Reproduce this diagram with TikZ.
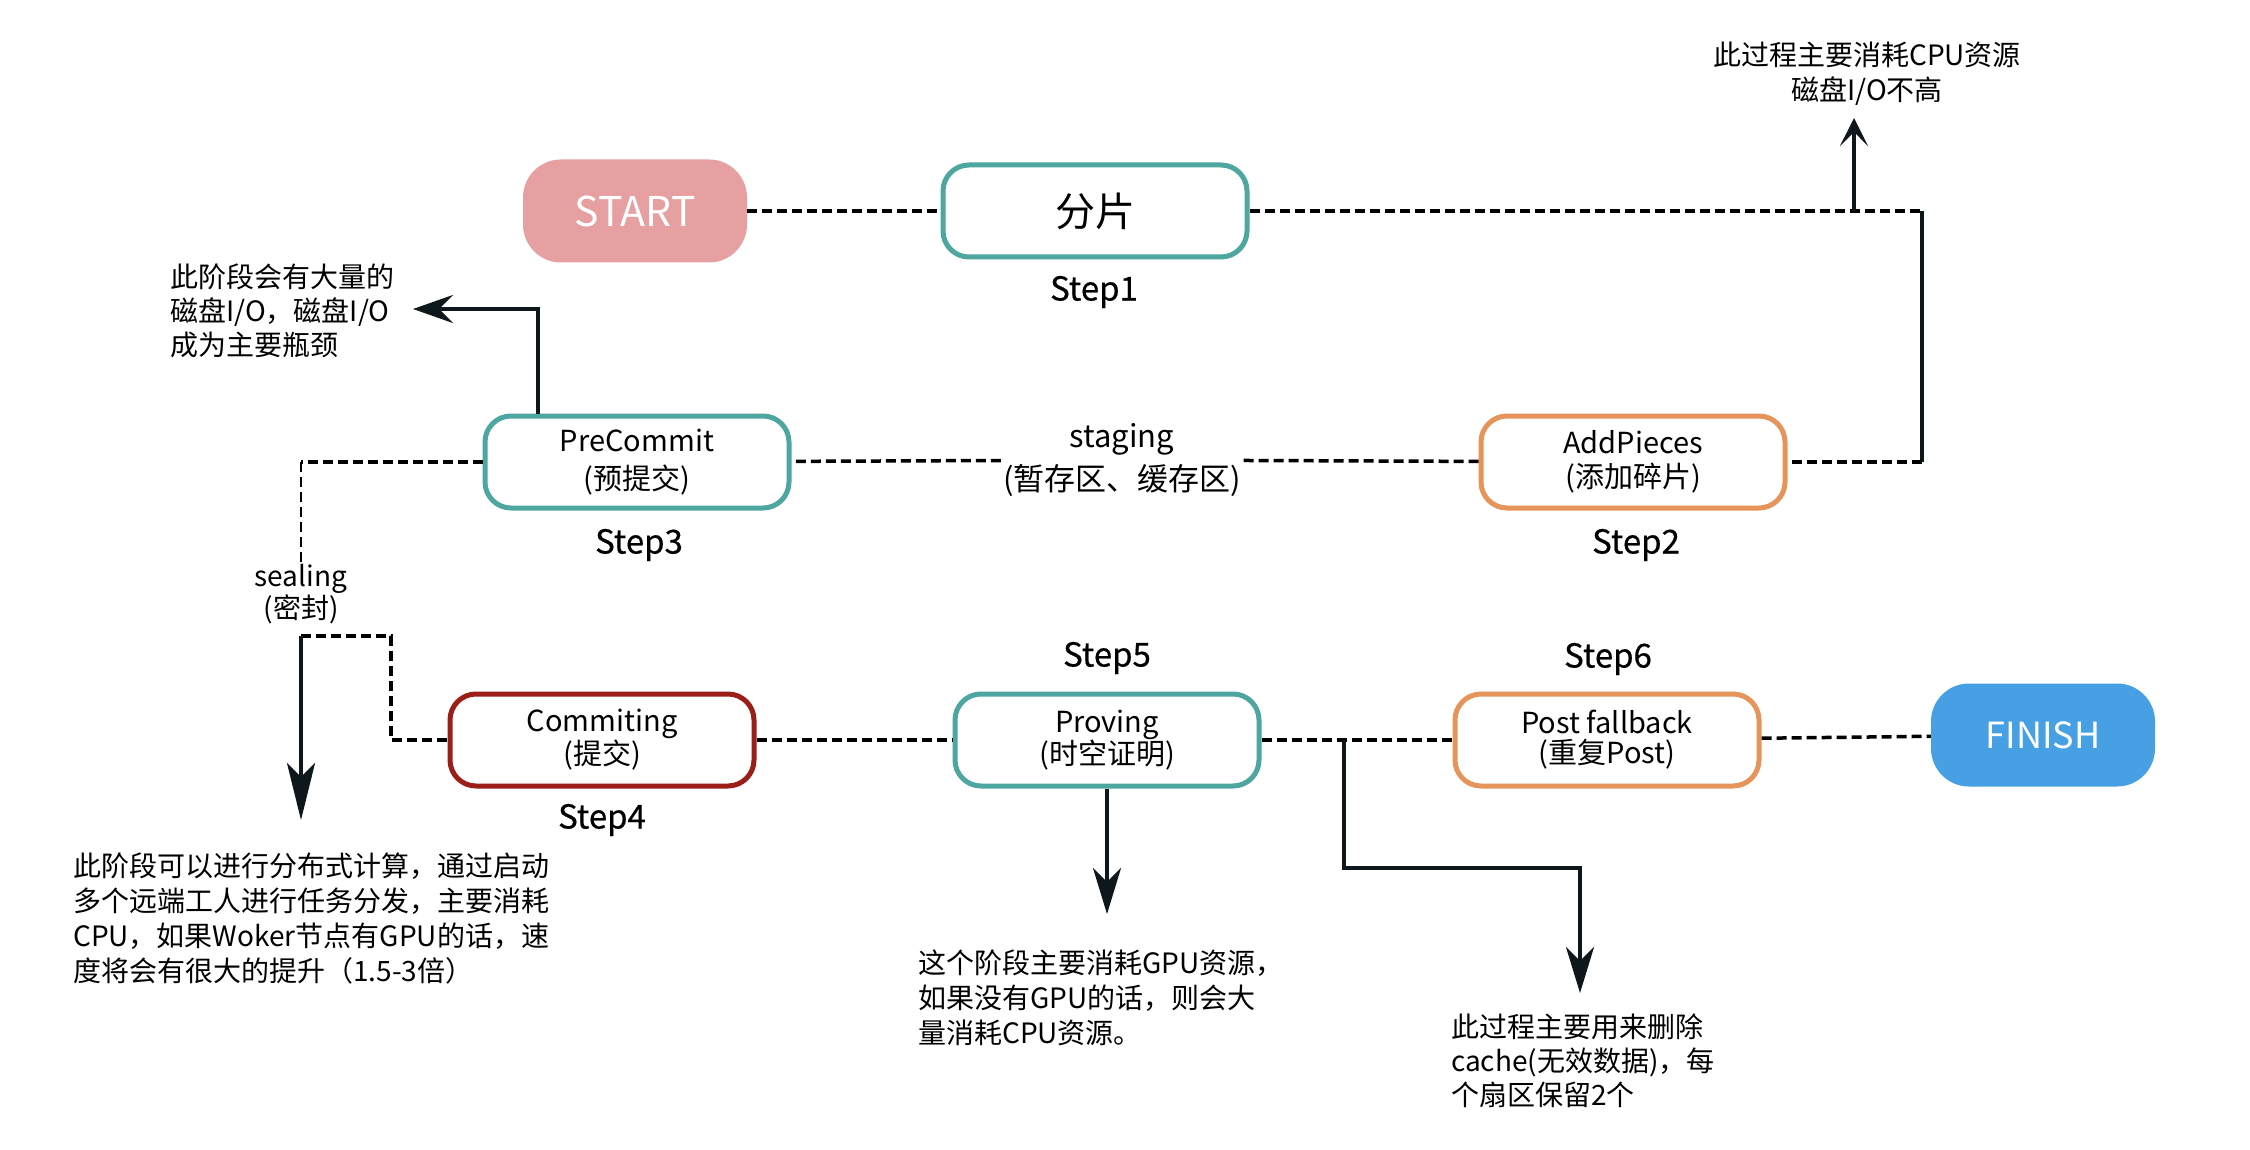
\documentclass[tikz,border=0pt]{standalone}
\usepackage{fontspec}
\setmainfont{Noto Sans CJK SC}
\newfontfamily\stepfont{Noto Sans CJK SC}[FakeBold=0.5]
\usetikzlibrary{arrows.meta}
\definecolor{tealc}{HTML}{4DA6A0}
\definecolor{orangec}{HTML}{E6955A}
\definecolor{redc}{HTML}{9B1F18}
\definecolor{pinkc}{HTML}{E6A0A1}
\definecolor{bluec}{HTML}{46A0E3}
\definecolor{inkc}{HTML}{0E171C}
\begin{document}
\begin{tikzpicture}[x=1pt,y=-1pt,
  stepbox/.style={draw, line width=5pt, rounded corners=26pt, minimum width=304pt, minimum height=92pt, align=center, fill=white, inner sep=0pt, font=\fontsize{29}{31}\selectfont},
  termbox/.style={rounded corners=38pt, minimum width=224pt, minimum height=103pt, inner sep=0pt, text=white},
  steplabel/.style={font=\stepfont\fontsize{33}{36}\selectfont},
  note/.style={align=left, anchor=west, inner sep=0pt, font=\fontsize{28}{35}\selectfont},
  dline/.style={line width=3.5pt, dash pattern=on 10pt off 5pt, color=black},
  sline/.style={line width=3.5pt, color=inkc},
  arr/.style={line width=4pt, color=inkc, -{Stealth[length=#1, width=28pt, inset=14pt]}},
  arr/.default=42pt]
\useasboundingbox (0,0) rectangle (2250,1150);
\fill[white] (0,0) rectangle (2250,1150);

% nodes
\node[termbox, fill=pinkc, font=\fontsize{41}{44}\selectfont] (start) at (635,211) {START};
\node[stepbox, draw=tealc, font=\fontsize{40}{44}\selectfont] (fp) at (1095,211) {分片};
\node[steplabel] (s1l) at (1094,292) {Step1};

\node[stepbox, draw=orangec, font=\fontsize{29}{34}\selectfont] (add) at (1633,462) {AddPieces\\(添加碎片)};
\node[steplabel] (s2l) at (1636,545) {Step2};

\node[stepbox, draw=tealc, font=\fontsize{29}{38}\selectfont] (pre) at (637,462) {PreCommit\\(预提交)};
\node[steplabel] (s3l) at (639,545) {Step3};

\node[align=center, inner sep=2pt, font=\fontsize{31}{43}\selectfont] (stg) at (1122,460) {staging\\(暂存区、缓存区)};

\node[stepbox, draw=redc, font=\fontsize{29}{29}\selectfont] (com) at (602,740) {Commiting\\(提交)};
\node[steplabel] (s4l) at (602,820) {Step4};

\node[stepbox, draw=tealc, font=\fontsize{29}{30}\selectfont] (prov) at (1107,740) {Proving\\(时空证明)};
\node[steplabel] (s5l) at (1107,658) {Step5};

\node[stepbox, draw=orangec, font=\fontsize{29}{30}\selectfont] (post) at (1607,740) {Post fallback\\(重复Post)};
\node[steplabel] (s6l) at (1608,659) {Step6};

\node[termbox, fill=bluec, font=\fontsize{36}{40}\selectfont] (fin) at (2043,735) {FINISH};

\node[align=center, inner sep=1pt, font=\fontsize{28}{28}\selectfont] (seal) at (301,594) {sealing\\(密封)};

% notes
\node[note, anchor=center, align=center] (topnote) at (1867,74) {此过程主要消耗CPU资源\\磁盘I/O不高};
\node[note, font=\fontsize{28}{34}\selectfont] (prenote) at (170,311) {此阶段会有大量的\\磁盘I/O，磁盘I/O\\成为主要瓶颈};
\node[note] (sealnote) at (73,918) {此阶段可以进行分布式计算，通过启动\\多个远端工人进行任务分发，主要消耗\\CPU，如果Woker节点有GPU的话，速\\度将会有很大的提升（1.5-3倍）};
\node[note] (provnote) at (918,998) {这个阶段主要消耗GPU资源，\\如果没有GPU的话，则会大\\量消耗CPU资源。};
\node[note, font=\fontsize{28}{34}\selectfont] (postnote) at (1451,1061) {此过程主要用来删除\\cache(无效数据)，每\\个扇区保留2个};

% coordinates
\coordinate (c0) at (1854,211);
\coordinate (tipA) at (1854,118);
\coordinate (c1) at (1922,211);
\coordinate (c2) at (1922,462);
\coordinate (p1) at (538,309);
\coordinate (p2) at (413,309);
\coordinate (s0) at (301,462);
\coordinate (s1) at (301,636);
\coordinate (s2) at (391,636);
\coordinate (s4) at (301,820);
\coordinate (v1) at (1107,914);
\coordinate (b0) at (1344,740);
\coordinate (b1) at (1344,868);
\coordinate (b2) at (1580,868);
\coordinate (b3) at (1580,993);

% connectors
\draw[dline] (start) -- (fp);
\draw[dline] (fp) -- (c1);
\draw[sline] (c1) -- (c2);
\draw[dline] (c2) -- (add);
\draw[arr=28pt] (c0) -- (tipA);
\draw[dline] (add) -- (stg);
\draw[dline] (stg) -- (pre);
\draw[arr=40pt] (pre.north -| p1) -- (p1) -- (p2);
\draw[dline] (pre.west) -- (s0);
\draw[dline, line width=2pt] (s0) -- (seal.north);
\draw[dline] (s1) -- (s2) -- (s2 |- com.west) -- (com.west);
\draw[arr=57pt] (s1) -- (s4);
\draw[dline] (com) -- (prov);
\draw[arr=46pt] (prov.south) -- (v1);
\draw[dline] (prov) -- (post);
\draw[dline] (post) -- (fin);
\draw[arr=46pt] (b0) -- (b1) -- (b2) -- (b3);
\end{tikzpicture}
\end{document}
